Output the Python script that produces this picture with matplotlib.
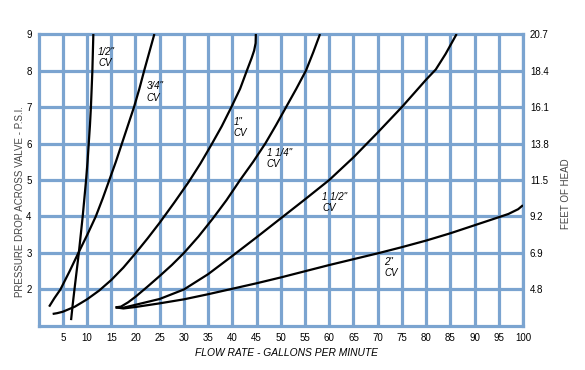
import matplotlib
matplotlib.use("Agg")
import matplotlib.pyplot as plt

# flow (gpm) / pressure drop (psi), one pair of lists per valve size
half_x = [6.7, 7.05, 7.4, 7.85, 8.3, 8.7, 9.1, 9.45, 9.8, 10.1, 10.35, 10.6, 10.8, 10.95, 11.1, 11.2, 11.3]
half_y = [1.16, 1.6, 2.0, 2.5, 3.0, 3.5, 4.0, 4.5, 5.0, 5.5, 6.0, 6.5, 7.0, 7.5, 8.0, 8.5, 9.0]

three_q_x = [2.17, 3.25, 4.5, 6.4, 8.2, 10.05, 11.8, 13.25, 14.6, 15.95, 17.2, 18.45, 19.7, 20.8, 21.8, 22.85, 23.9]
three_q_y = [1.53, 1.76, 2.0, 2.5, 3.0, 3.5, 4.0, 4.5, 5.0, 5.5, 6.0, 6.5, 7.0, 7.5, 8.0, 8.5, 9.0]

one_x = [2.9, 3.8, 5.0, 7.5, 10.0, 12.5, 15.0, 17.5, 20.0, 22.5, 25.0, 28.0, 31.0,
         33.4, 35.6, 37.8, 39.8, 41.6, 43.0, 44.0, 44.5, 44.8, 44.85]
one_y = [1.33, 1.35, 1.39, 1.53, 1.73, 1.97, 2.26, 2.6, 2.99, 3.4, 3.83, 4.38, 4.95,
         5.45, 5.95, 6.47, 7.0, 7.5, 8.0, 8.35, 8.55, 8.75, 9.0]

one_q_x = [15.9, 17.0, 18.5, 20.0, 22.5, 25.0, 27.5, 30.0, 33.0, 36.0, 38.8, 41.6,
           44.3, 46.8, 49.0, 51.1, 53.2, 55.2, 56.7, 58.1]
one_q_y = [1.51, 1.53, 1.65, 1.8, 2.08, 2.37, 2.67, 3.0, 3.45, 3.95, 4.45, 5.0,
           5.5, 6.0, 6.5, 7.0, 7.5, 8.0, 8.5, 9.0]

one_h_x = [15.9, 17.5, 20.0, 25.0, 30.0, 35.0, 40.0, 45.0, 50.0, 55.0, 60.0, 65.0, 70.0,
           75.0, 80.0, 82.0, 84.0, 86.3]
one_h_y = [1.51, 1.5, 1.58, 1.74, 2.0, 2.42, 2.92, 3.43, 3.95, 4.47, 5.0, 5.62, 6.3,
           7.0, 7.75, 8.03, 8.45, 9.0]

two_x = [15.9, 17.5, 20.0, 25.0, 30.0, 35.0, 40.0, 45.0, 50.0, 55.0, 60.0, 65.0, 70.0,
         75.0, 80.0, 85.0, 90.0, 95.0, 97.0, 99.0, 100.0]
two_y = [1.51, 1.48, 1.52, 1.62, 1.73, 1.87, 2.02, 2.17, 2.33, 2.5, 2.67, 2.83, 2.99,
         3.16, 3.34, 3.54, 3.76, 3.98, 4.07, 4.2, 4.31]

curve_labels = ['1/2"\nCV', '3/4"\nCV', '1"\nCV', '1 1/4"\nCV', '1 1/2"\nCV', '2"\nCV']
label_pos = [(12.3, 8.65), (22.3, 7.7), (40.2, 6.73), (47.1, 5.88), (58.5, 4.68), (71.3, 2.9)]

x_ticks = list(range(5, 101, 5))
psi_ticks = [2, 3, 4, 5, 6, 7, 8, 9]
head_labels = ["4.8", "6.9", "9.2", "11.5", "13.8", "16.1", "18.4", "20.7"]

plt.rcParams['font.family'] = ['Liberation Sans', 'DejaVu Sans']
grid_col = '#7ba4d0'
W, H = 585, 370

fig = plt.figure(figsize=(W / 100, H / 100), dpi=100)
ax = fig.add_axes([0.066, 0.119, 0.828, 0.789])

ax.set_xlim(0, 100)
ax.set_ylim(1, 9)

for v in x_ticks:
    ax.axvline(v, color=grid_col, lw=2.3, zorder=1)
for v in range(2, 9):
    ax.axhline(v, color=grid_col, lw=2.3, zorder=1)
for s in ax.spines.values():
    s.set_color(grid_col)
    s.set_linewidth(2.3)

curves = [(half_x, half_y), (three_q_x, three_q_y), (one_x, one_y),
          (one_q_x, one_q_y), (one_h_x, one_h_y), (two_x, two_y)]
for cx, cy in curves:
    ax.plot(cx, cy, color='black', lw=1.6, solid_capstyle='butt',
            solid_joinstyle='round', zorder=3)

for txt, (lx, ly) in zip(curve_labels, label_pos):
    ax.text(lx, ly, txt, fontsize=7, style='italic', ha='left', va='top',
            linespacing=1.15, zorder=4)

ax.set_xticks(x_ticks)
ax.set_yticks(psi_ticks)
ax.tick_params(length=0, labelsize=7, pad=5)

ax2 = ax.twinx()
ax2.set_ylim(1, 9)
ax2.set_yticks(psi_ticks)
ax2.set_yticklabels(head_labels)
ax2.tick_params(length=0, labelsize=7, pad=5)
for s in ax2.spines.values():
    s.set_visible(False)

# axis titles placed by pixel position as in the original
fig.text(286.5 / W, 1 - 353 / H, 'FLOW RATE - GALLONS PER MINUTE', fontsize=7.4,
         style='italic', ha='center', va='center')
fig.text(20 / W, 1 - 202 / H, 'PRESSURE DROP ACROSS VALVE - P.S.I.', fontsize=7,
         color='#444444', rotation=90, ha='center', va='center')
fig.text(566 / W, 1 - 194 / H, 'FEET OF HEAD', fontsize=7, color='#444444',
         rotation=90, ha='center', va='center')

fig.savefig('out.png', dpi=100)
